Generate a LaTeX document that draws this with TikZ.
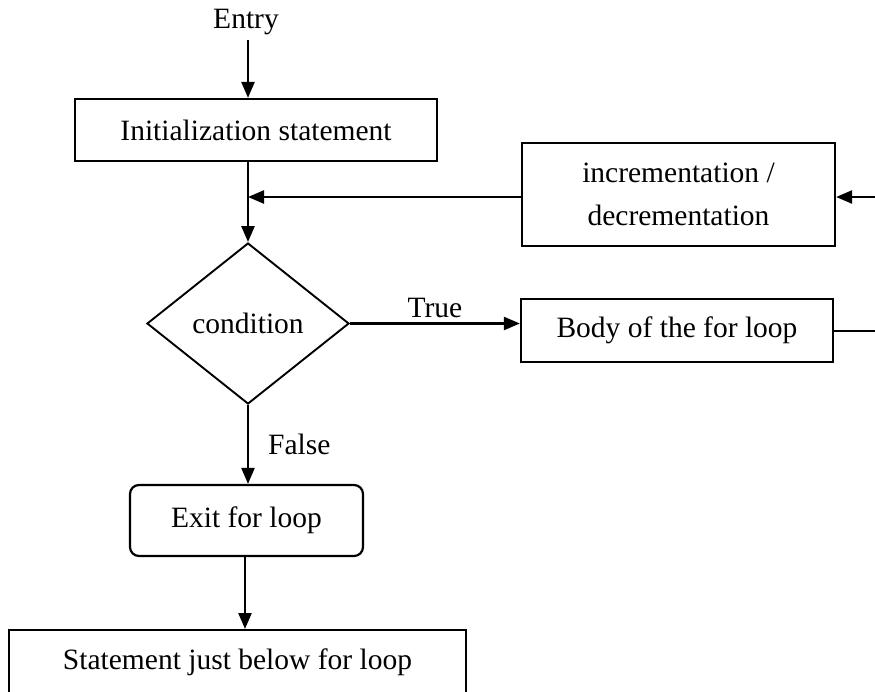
\documentclass[tikz,border=0pt]{standalone}
\usepackage{fontspec}
\setmainfont{Liberation Serif}
\usetikzlibrary{arrows.meta,shapes.geometric}

\begin{document}
\begin{tikzpicture}[
  x=1pt, y=-1pt,
  font=\fontsize{29.5}{35}\selectfont,
  box/.style={draw, line width=2.2pt, rectangle, inner sep=0pt, align=center},
  roundbox/.style={box, rounded corners=9pt},
  decision/.style={draw, line width=1.9pt, diamond, inner sep=0pt,
    minimum width=202pt, minimum height=161pt},
  flow/.style={line width=2.4pt, -{Triangle[length=16pt,width=13pt]}},
  plain/.style={line width=2.4pt},
  lbl/.style={inner sep=0pt}
]
  % page frame
  \fill[white] (0,0) rectangle (875,691);
  \useasboundingbox (0,0) rectangle (875,691);

  % nodes
  \node[lbl] (entry) at (246,22) {Entry};
  \node[box, minimum width=362pt, minimum height=62pt] (init) at (256,130) {Initialization statement};
  \node[box, minimum width=313pt, minimum height=103pt] (incr) at (678.5,194.5)
    {incrementation /\\[8pt]decrementation};
  \node[decision] (cond) at (248,323.5) {condition};
  \node[box, minimum width=312pt, minimum height=63pt] (body) at (677,330.5) {Body of the for loop};
  \node[roundbox, minimum width=233pt, minimum height=71pt] (exit) at (246.5,520.5) {Exit for loop};
  \node[box, minimum width=457pt, minimum height=64pt] (stmt) at (237.5,662) {Statement just below for loop};

  % helper points
  \coordinate (entrytop) at (248,40);
  \coordinate (join) at (248,197);
  \coordinate (backin) at (875,197);
  \coordinate (backout) at (875,331);

  % connectors
  \draw[flow] (entrytop) -- (entrytop |- init.north);
  \draw[flow] (join |- init.south) -- (cond.north);
  \draw[flow] (incr.west |- join) -- (join);
  \draw[flow] (backin) -- (incr.east |- backin);
  \draw[flow] (cond.east) -- (body.west |- cond.east)
    node[lbl, midway, above=5pt] {True};
  \draw[plain] (body.east |- backout) -- (backout);
  \draw[flow] (cond.south) -- (cond.south |- exit.north)
    node[lbl, midway, right=19pt] {False};
  \draw[flow] (245,556) -- (245,629);
\end{tikzpicture}
\end{document}
